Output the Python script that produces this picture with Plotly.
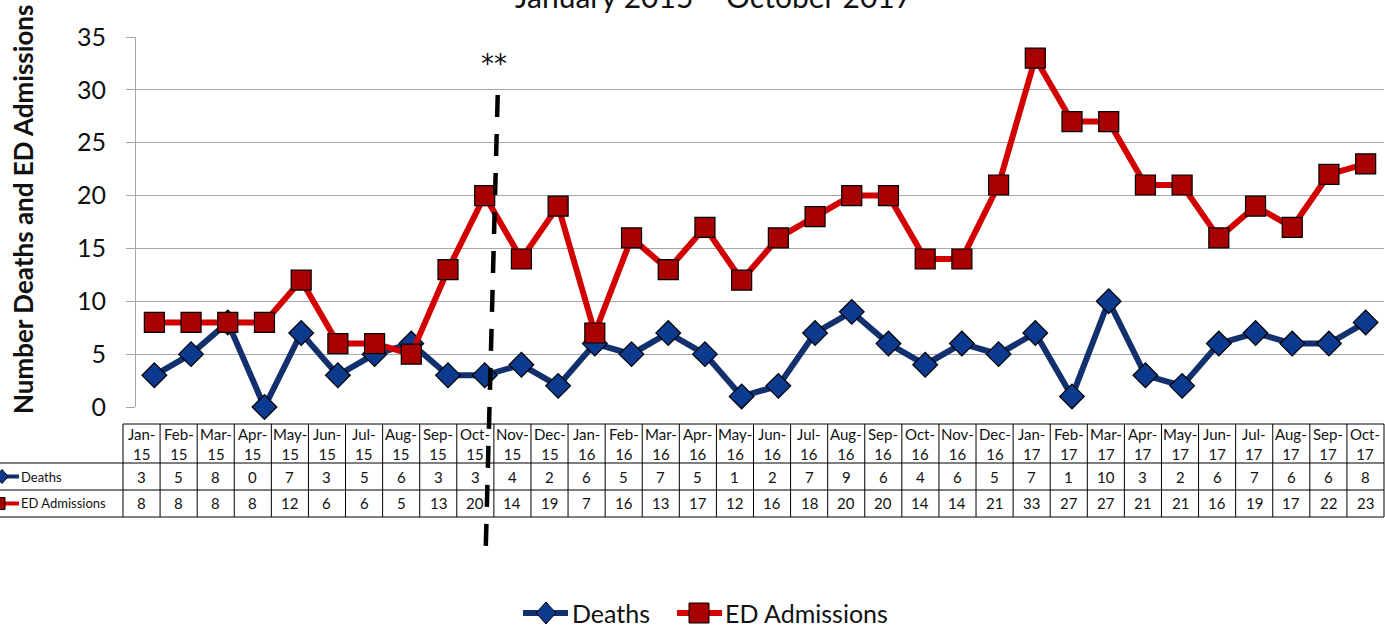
import plotly.graph_objects as go

months = ["Jan-15","Feb-15","Mar-15","Apr-15","May-15","Jun-15","Jul-15","Aug-15","Sep-15","Oct-15","Nov-15","Dec-15",
          "Jan-16","Feb-16","Mar-16","Apr-16","May-16","Jun-16","Jul-16","Aug-16","Sep-16","Oct-16","Nov-16","Dec-16",
          "Jan-17","Feb-17","Mar-17","Apr-17","May-17","Jun-17","Jul-17","Aug-17","Sep-17","Oct-17"]
deaths = [3,5,8,0,7,3,5,6,3,3,4,2,6,5,7,5,1,2,7,9,6,4,6,5,7,1,10,3,2,6,7,6,6,8]
ed_admissions = [8,8,8,8,12,6,6,5,13,20,14,19,7,16,13,17,12,16,18,20,20,14,14,21,33,27,27,21,21,16,19,17,22,23]
series_names = ["Deaths", "ED Admissions"]
y_ticks = [0,5,10,15,20,25,30,35]

W, H = 1385, 628
ML, MR, MT, MB = 123, 1, 37, 221
PW = W - ML - MR
PH = H - MT - MB
PLOT_LEFT = 136
FONT = "Lato"

def px2x(px):
    return (px - ML) / PW

def py2y(py):
    return (MT + PH - py) / PH

navy_line = "#13306E"
navy_mark = "#0B3A8E"
red_line = "#D20000"
red_mark = "#A80000"

fig = go.Figure()
fig.add_trace(go.Scatter(
    x=list(range(len(months))), y=deaths, name=series_names[0], mode="lines+markers",
    line=dict(color=navy_line, width=6),
    marker=dict(symbol="diamond", size=19, color=navy_mark, line=dict(color="#000000", width=1.2)),
    cliponaxis=False, showlegend=False))
fig.add_trace(go.Scatter(
    x=list(range(len(months))), y=ed_admissions, name=series_names[1], mode="lines+markers",
    line=dict(color=red_line, width=6),
    marker=dict(symbol="square", size=20, color=red_mark, line=dict(color="#000000", width=1.2)),
    cliponaxis=False, showlegend=False))

shapes = []
ann = []

n = len(months)
row_top, row_h1, row_h2, row_bot = 424, 463, 490, 517
def colx(i):
    return i / n

line_style = dict(color="#000000", width=1)
shapes.append(dict(type="line", xref="paper", yref="paper", x0=0, x1=1, y0=py2y(row_top), y1=py2y(row_top), line=line_style))
for py in (row_h1, row_h2, row_bot):
    shapes.append(dict(type="line", xref="paper", yref="paper", x0=px2x(0), x1=1, y0=py2y(py), y1=py2y(py), line=line_style))
for i in range(n + 1):
    shapes.append(dict(type="line", xref="paper", yref="paper", x0=colx(i), x1=colx(i),
                       y0=py2y(row_top), y1=py2y(row_bot), line=line_style))

tfont = dict(family=FONT, size=15, color="#111111")
for i, m in enumerate(months):
    a, b = m.split("-")
    xc = (i + 0.5) / n
    ann.append(dict(x=xc, y=py2y((row_top + row_h1) / 2), xref="paper", yref="paper", text=a + "-<br>" + b,
                    showarrow=False, font=tfont, xanchor="center", yanchor="middle"))
    ann.append(dict(x=xc, y=py2y((row_h1 + row_h2) / 2), xref="paper", yref="paper", text=str(deaths[i]),
                    showarrow=False, font=tfont, xanchor="center", yanchor="middle"))
    ann.append(dict(x=xc, y=py2y((row_h2 + row_bot) / 2), xref="paper", yref="paper", text=str(ed_admissions[i]),
                    showarrow=False, font=tfont, xanchor="center", yanchor="middle"))

def diamond(cx, cy, rx, ry):
    return "M {} {} L {} {} L {} {} L {} {} Z".format(px2x(cx - rx), py2y(cy), px2x(cx), py2y(cy - ry),
                                                        px2x(cx + rx), py2y(cy), px2x(cx), py2y(cy + ry))
def square(cx, cy, r):
    return "M {} {} L {} {} L {} {} L {} {} Z".format(px2x(cx - r), py2y(cy - r), px2x(cx + r), py2y(cy - r),
                                                        px2x(cx + r), py2y(cy + r), px2x(cx - r), py2y(cy + r))

def key(x0, x1, cy, kind, mx, size, width):
    col_l = navy_line if kind == "diamond" else red_line
    col_m = navy_mark if kind == "diamond" else red_mark
    shapes.append(dict(type="line", xref="paper", yref="paper", x0=px2x(x0), x1=px2x(x1), y0=py2y(cy), y1=py2y(cy),
                       line=dict(color=col_l, width=width)))
    path = diamond(mx, cy, size * 0.9, size) if kind == "diamond" else square(mx, cy, size)
    shapes.append(dict(type="path", xref="paper", yref="paper", path=path,
                       fillcolor=col_m, line=dict(color="#000", width=1)))

# row labels with keys inside the data table
yd = (row_h1 + row_h2) / 2
ye = (row_h2 + row_bot) / 2
lfont = dict(family=FONT, size=13, color="#111111")
ann.append(dict(x=px2x(19), y=py2y(yd), xref="paper", yref="paper", text=series_names[0], showarrow=False,
                font=lfont, xanchor="left", yanchor="middle"))
ann.append(dict(x=px2x(19), y=py2y(ye), xref="paper", yref="paper", text=series_names[1], showarrow=False,
                font=lfont, xanchor="left", yanchor="middle"))
key(-5, 19, yd, "diamond", 2, 7, 4)
key(-5, 19, ye, "square", -1, 6, 4)

# bottom legend
LEG_Y = 613
key(523, 568, LEG_Y, "diamond", 546, 11, 6)
ann.append(dict(x=px2x(570), y=py2y(LEG_Y), xref="paper", yref="paper", text=series_names[0], showarrow=False,
                font=dict(family=FONT, size=25, color="#111"), xanchor="left", yanchor="middle"))
key(677, 722, LEG_Y, "square", 699, 10, 6)
ann.append(dict(x=px2x(723), y=py2y(LEG_Y), xref="paper", yref="paper", text=series_names[1], showarrow=False,
                font=dict(family=FONT, size=25, color="#111"), xanchor="left", yanchor="middle"))

# dashed intervention line near Oct-15
cat_w = (W - MR - PLOT_LEFT) / n
oct15 = months.index("Oct-15")
cx = PLOT_LEFT + (oct15 + 0.5) * cat_w
shapes.append(dict(type="line", xref="paper", yref="paper", x0=px2x(cx + 13), y0=py2y(95),
                   x1=px2x(cx + 1), y1=py2y(550), line=dict(color="#000000", width=4.5, dash="22px,17px")))
ann.append(dict(x=px2x(cx + 9), y=py2y(64), xref="paper", yref="paper", text="**", showarrow=False,
                font=dict(family="DejaVu Sans", size=26, color="#111"), xanchor="center", yanchor="middle"))

# title (partly cut off at top)
ann.append(dict(x=px2x(713), y=py2y(-4), xref="paper", yref="paper", text="January 2015 \u2013 October 2017",
                showarrow=False, font=dict(family=FONT, size=30, color="#111"), xanchor="center", yanchor="middle"))
# y axis title
ann.append(dict(x=px2x(23), y=py2y(210), xref="paper", yref="paper", text="<b>Number Deaths and ED Admissions</b>",
                showarrow=False, textangle=-90, font=dict(family=FONT, size=26, color="#111"),
                xanchor="center", yanchor="middle"))

fig.update_layout(
    width=W, height=H,
    margin=dict(l=ML, r=MR, t=MT, b=MB),
    paper_bgcolor="white", plot_bgcolor="white",
    xaxis=dict(domain=[px2x(PLOT_LEFT), 1], range=[-0.5, n - 0.5], showticklabels=False, showgrid=False,
               zeroline=False, showline=False, ticks=""),
    yaxis=dict(range=[0, 35], tickvals=y_ticks, showgrid=True, gridcolor="#A6A6A6", gridwidth=1,
               zeroline=False, showline=True, linecolor="#A6A6A6", linewidth=1,
               ticks="outside", ticklen=9, tickcolor="#A6A6A6", ticklabelstandoff=15,
               tickfont=dict(family=FONT, size=25, color="#111")),
    showlegend=False,
    shapes=shapes, annotations=ann,
)
fig.write_html("out.html", config={"displayModeBar": False},
               post_script="document.body.style.margin='0px';")
